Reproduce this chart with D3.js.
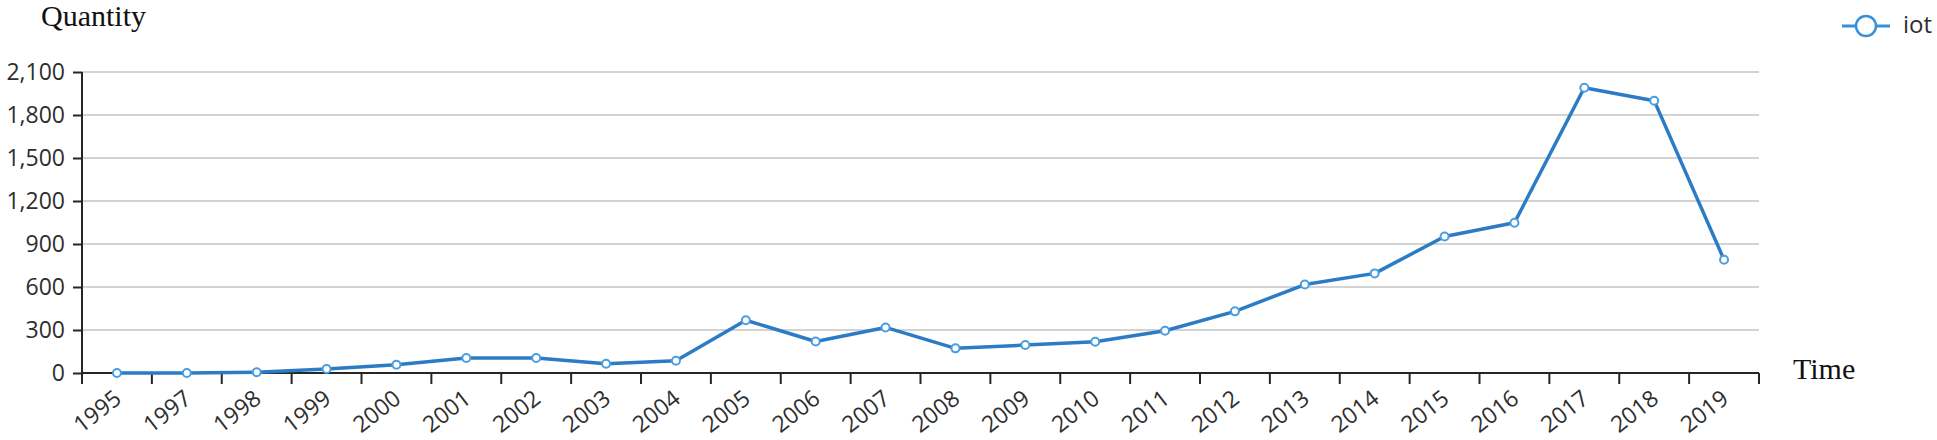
<!DOCTYPE html>
<html>
<head>
<meta charset="utf-8">
<script src="https://cdn.jsdelivr.net/npm/d3@7/dist/d3.min.js"></script>
<style>
  html, body { margin: 0; padding: 0; background: #fff; }
  svg { display: block; }
</style>
</head>
<body>
<svg id="chart" width="1937" height="440"></svg>
<script>
const years = ["1995","1997","1998","1999","2000","2001","2002","2003","2004","2005","2006","2007","2008","2009","2010","2011","2012","2013","2014","2015","2016","2017","2018","2019"];
const iotValues = [0,0,5,28,58,105,105,65,85,368,220,318,172,195,218,295,430,617,695,952,1048,1990,1900,790];
const yTicks = [0,300,600,900,1200,1500,1800,2100];
const seriesName = "iot";
const yTitle = "Quantity";
const xTitle = "Time";

(function () {
const svg = d3.select("#chart");
const mLeft = 82, mRight = 1759, mTop = 72, mBottom = 373;

const x = d3.scaleBand().domain(years).range([mLeft, mRight]).padding(0);
const y = d3.scaleLinear().domain([0, 2100]).range([mBottom, mTop]);
const fmt = d3.format(",");

const axisColor = "#262626";
const textColor = "#2e2e2e";
const font = "'Open Sans', 'Noto Sans', sans-serif";

// gridlines
svg.append("g").selectAll("line")
  .data(yTicks.filter(d => d > 0))
  .join("line")
  .attr("x1", mLeft).attr("x2", mRight)
  .attr("y1", d => y(d)).attr("y2", d => y(d))
  .attr("stroke", "#d3d3d3").attr("stroke-width", 2);

// y axis
const yAxis = svg.append("g")
  .attr("transform", `translate(${mLeft},0)`)
  .call(d3.axisLeft(y).tickValues(yTicks).tickFormat(fmt).tickSize(9).tickPadding(8));
yAxis.select(".domain").attr("stroke", axisColor).attr("stroke-width", 2).attr("d", `M0,${mTop}V${mBottom}`);
yAxis.selectAll(".tick line").attr("stroke", axisColor).attr("stroke-width", 2);
yAxis.selectAll(".tick text").attr("fill", textColor).style("font-family", font).style("font-size", "23px");

// x axis line
svg.append("line")
  .attr("x1", mLeft).attr("x2", mRight)
  .attr("y1", mBottom).attr("y2", mBottom)
  .attr("stroke", axisColor).attr("stroke-width", 2);

// x boundary ticks
const boundaries = years.map(d => x(d)).concat([x.range()[1]]);
svg.append("g").selectAll("line")
  .data(boundaries)
  .join("line")
  .attr("x1", d => d).attr("x2", d => d)
  .attr("y1", mBottom).attr("y2", mBottom + 11)
  .attr("stroke", axisColor).attr("stroke-width", 2);

// x labels
svg.append("g").selectAll("text")
  .data(years)
  .join("text")
  .attr("transform", d => `translate(${x(d) + x.bandwidth() / 2 + 1},${mBottom + 22}) rotate(-38)`)
  .attr("text-anchor", "end")
  .attr("dy", "0.35em")
  .attr("fill", textColor)
  .style("font-family", font)
  .style("font-size", "23px")
  .text(d => d);

// line
const data = years.map((d, i) => ({ year: d, value: iotValues[i] }));
const line = d3.line()
  .x(d => x(d.year) + x.bandwidth() / 2)
  .y(d => y(d.value));

svg.append("path")
  .datum(data)
  .attr("fill", "none")
  .attr("stroke", "#2b7cc4")
  .attr("stroke-width", 3.5)
  .attr("stroke-linejoin", "round")
  .attr("d", line);

svg.append("g").selectAll("circle")
  .data(data)
  .join("circle")
  .attr("cx", d => x(d.year) + x.bandwidth() / 2)
  .attr("cy", d => y(d.value))
  .attr("r", 4)
  .attr("fill", "#ffffff")
  .attr("stroke", "#4a9ee0")
  .attr("stroke-width", 2);

// titles
svg.append("text")
  .attr("x", 41).attr("y", 26)
  .style("font-family", "'Liberation Serif', 'Times New Roman', serif")
  .style("font-size", "30px")
  .attr("fill", "#111")
  .text(yTitle);

svg.append("text")
  .attr("x", 1793).attr("y", 379)
  .style("font-family", "'Liberation Serif', 'Times New Roman', serif")
  .style("font-size", "30px")
  .attr("fill", "#111")
  .text(xTitle);

// legend
const lg = svg.append("g").attr("transform", "translate(1842,26)");
lg.append("line").attr("x1", 0).attr("x2", 48).attr("y1", 0).attr("y2", 0)
  .attr("stroke", "#3a90d8").attr("stroke-width", 3);
lg.append("circle").attr("cx", 24).attr("cy", 0).attr("r", 10)
  .attr("fill", "#fff").attr("stroke", "#3a90d8").attr("stroke-width", 2.5);
lg.append("text").attr("x", 61).attr("y", 7)
  .style("font-family", font).style("font-size", "24px")
  .attr("fill", textColor)
  .text(seriesName);
})();
</script>
</body>
</html>
